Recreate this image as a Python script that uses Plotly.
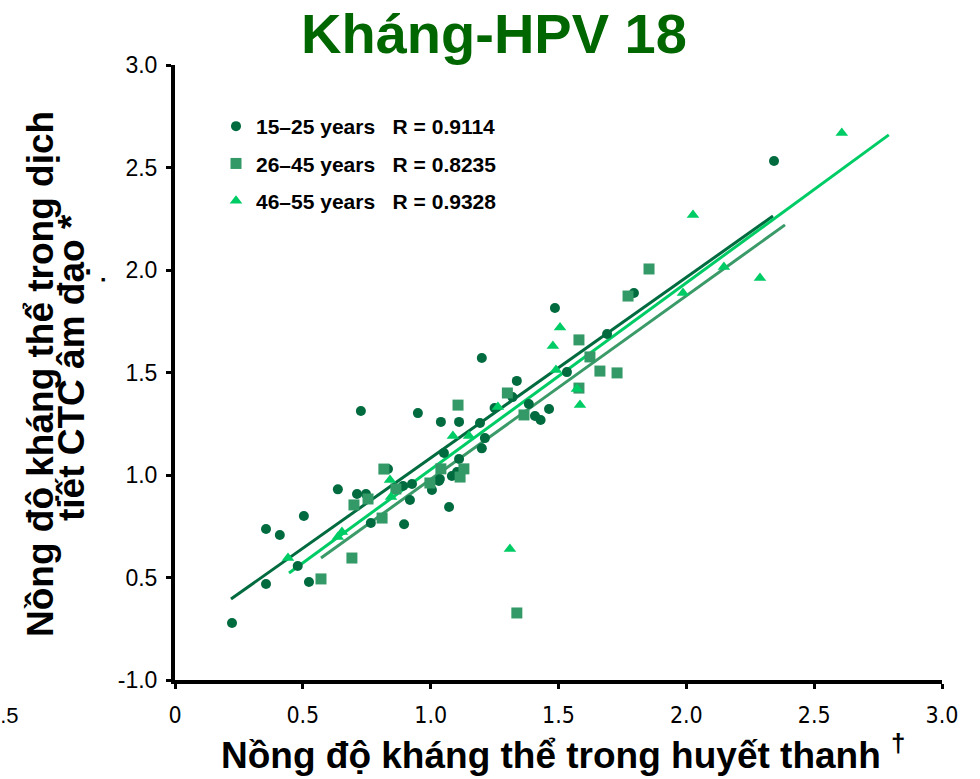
import plotly.graph_objects as go

# ---------------- data ----------------
groups = ["15–25 years", "26–45 years", "46–55 years"]
r_values = ["0.9114", "0.8235", "0.9328"]

x_15_25 = [0.223, 0.356, 0.356, 0.41, 0.504, 0.48, 0.524, 0.637, 0.712, 0.747,
           0.766, 0.896, 0.919, 0.892, 0.927, 1.005, 1.032, 1.072, 0.727, 0.950,
           1.04, 1.111, 1.193, 1.212, 1.20, 1.25, 1.052, 1.111, 1.103, 1.083,
           1.036, 0.833, 1.337, 1.32, 1.384, 1.408, 1.43, 1.463, 1.533, 1.795,
           1.486, 1.69, 1.20, 2.343]
y_15_25 = [0.278, 0.737, 0.468, 0.707, 0.80, 0.556, 0.478, 0.93, 0.907, 0.907,
           0.766, 0.76, 0.878, 0.946, 0.956, 0.927, 0.971, 0.844, 1.312, 1.302,
           1.259, 1.259, 1.254, 1.18, 1.13, 1.327, 1.107, 1.078, 1.015, 0.995,
           0.98, 1.029, 1.459, 1.38, 1.346, 1.288, 1.268, 1.322, 1.502, 1.888,
           1.815, 1.688, 1.571, 2.532]

x_26_45 = [0.70, 0.755, 0.81, 0.692, 0.571, 1.337, 0.864, 0.997, 1.115, 1.107,
           0.817, 1.04, 1.13, 1.30, 1.365, 1.854, 1.772, 1.58, 1.623, 1.662,
           1.729, 1.58]
y_26_45 = [0.854, 0.883, 0.79, 0.595, 0.493, 0.327, 0.932, 0.961, 0.99, 1.341,
           1.029, 1.03, 1.03, 1.40, 1.293, 2.005, 1.873, 1.659, 1.576, 1.507,
           1.498, 1.424]

x_46_55 = [0.442, 0.653, 0.637, 0.845, 0.841, 1.31, 1.087, 1.15, 1.263, 1.49,
           1.572, 1.506, 1.478, 1.584, 2.608, 2.026, 2.288, 2.147, 1.987]
y_46_55 = [0.595, 0.722, 0.698, 0.893, 0.976, 0.639, 1.19, 1.19, 1.332, 1.512,
           1.42, 1.72, 1.629, 1.341, 2.668, 2.268, 1.961, 2.015, 1.888]

# regression line end points
fit_x_15_25 = [0.219, 2.339]
fit_y_15_25 = [0.395, 2.263]
fit_x_26_45 = [0.571, 2.386]
fit_y_26_45 = [0.595, 2.220]
fit_x_46_55 = [0.446, 2.792]
fit_y_46_55 = [0.522, 2.659]

tick_vals = [0, 0.5, 1.0, 1.5, 2.0, 2.5, 3.0]
x_tick_text = ["0", "0.5", "1.0", "1.5", "2.0", "2.5", "3.0"]
y_tick_text = ["-1.0", "0.5", "1.0", "1.5", "2.0", "2.5", "3.0"]

# ---------------- styles ----------------
c_dark = "#006B3F"
c_mid = "#339966"
c_bright = "#00CC66"
line_mid = "#3A9A68"
ARIAL = "Liberation Sans, Arial, sans-serif"
NARROW = "Liberation Sans Narrow, Arial Narrow, DejaVu Sans Condensed, Liberation Sans, sans-serif"
NBSP = "\u00a0"

fig = go.Figure()

series = [
    (x_15_25, y_15_25, fit_x_15_25, fit_y_15_25, c_dark, c_dark, "circle", 10),
    (x_26_45, y_26_45, fit_x_26_45, fit_y_26_45, c_mid, line_mid, "square", 11),
    (x_46_55, y_46_55, fit_x_46_55, fit_y_46_55, c_bright, c_bright, "triangle-up", 11),
]

for i, (xs, ys, fx, fy, mc, lc, sym, sz) in enumerate(series):
    fig.add_trace(go.Scatter(
        x=fx, y=fy, mode="lines",
        line=dict(color=lc, width=3),
        showlegend=False, hoverinfo="skip",
    ))
for i, (xs, ys, fx, fy, mc, lc, sym, sz) in enumerate(series):
    fig.add_trace(go.Scatter(
        x=xs, y=ys, mode="markers",
        marker=dict(color=mc, symbol=sym, size=sz, line=dict(width=0)),
        name=groups[i] + NBSP * 3 + "R = " + r_values[i],
        legendgroup="g%d" % i,
        showlegend=True,
    ))

fig.update_layout(
    width=980, height=779,
    margin=dict(l=175, r=38, t=65, b=99),
    plot_bgcolor="white", paper_bgcolor="white",
    font=dict(family=ARIAL, color="black"),
    title=dict(
        text="<b>Kháng-HPV 18</b>",
        font=dict(family=ARIAL, size=56, color="#006600"),
        x=494 / 980, xref="container", xanchor="center",
        y=1 - 33 / 779, yref="container", yanchor="middle",
    ),
    showlegend=True,
    legend=dict(
        x=(216 - 175) / 767, xanchor="left",
        y=(680 - 106) / 615, yanchor="top",
        font=dict(family=ARIAL, size=21, color="black", weight="bold"),
        bgcolor="rgba(0,0,0,0)",
        tracegroupgap=7,
        itemsizing="trace",
    ),
    xaxis=dict(
        range=[0, 3.0], tickvals=tick_vals, ticktext=x_tick_text,
        showgrid=False, zeroline=False,
        showline=True, linecolor="black", linewidth=4,
        ticks="outside", ticklen=5, tickwidth=3, tickcolor="black",
        tickfont=dict(family=NARROW, size=23, color="black"),
        ticklabelstandoff=6,
        fixedrange=True,
    ),
    yaxis=dict(
        range=[0, 3.0], tickvals=tick_vals, ticktext=y_tick_text,
        showgrid=False, zeroline=False,
        showline=True, linecolor="black", linewidth=4,
        ticks="outside", ticklen=5, tickwidth=3, tickcolor="black",
        tickfont=dict(family=ARIAL, size=23, color="black"),
        ticklabelstandoff=4,
        fixedrange=True,
    ),
)

# axis titles
fig.add_annotation(
    text="<b>Nồng độ kháng thể trong huyết thanh <sup>†</sup></b>",
    xref="paper", yref="paper",
    x=(563 - 175) / 767, y=-(752 - 680) / 615,
    xanchor="center", yanchor="middle", showarrow=False,
    font=dict(family=ARIAL, size=37, color="black"),
)
fig.add_annotation(
    text="<b>Nồng độ kháng thể trong dịch</b>",
    xref="paper", yref="paper",
    x=(40 - 175) / 767, y=(680 - 374) / 615,
    xanchor="center", yanchor="middle", showarrow=False, textangle=-90,
    font=dict(family=ARIAL, size=37, color="black"),
)
fig.add_annotation(
    text="<b>tiết CTC âm đạo *</b>",
    xref="paper", yref="paper",
    x=(71 - 175) / 767, y=(680 - 368) / 615,
    xanchor="center", yanchor="middle", showarrow=False, textangle=-90,
    font=dict(family=ARIAL, size=37, color="black"),
)

# stray remnants at the left edge of the picture
fig.add_annotation(
    text="2.5", xref="paper", yref="paper",
    x=(21 - 175) / 767, y=-(715 - 680) / 615,
    xanchor="right", yanchor="middle", showarrow=False,
    font=dict(family=ARIAL, size=22, color="black"),
)
fig.add_annotation(
    text="■", xref="paper", yref="paper",
    x=(103 - 175) / 767, y=(680 - 279) / 615,
    xanchor="center", yanchor="middle", showarrow=False,
    font=dict(family=ARIAL, size=7, color="black"),
)

fig.write_html("out.html")
